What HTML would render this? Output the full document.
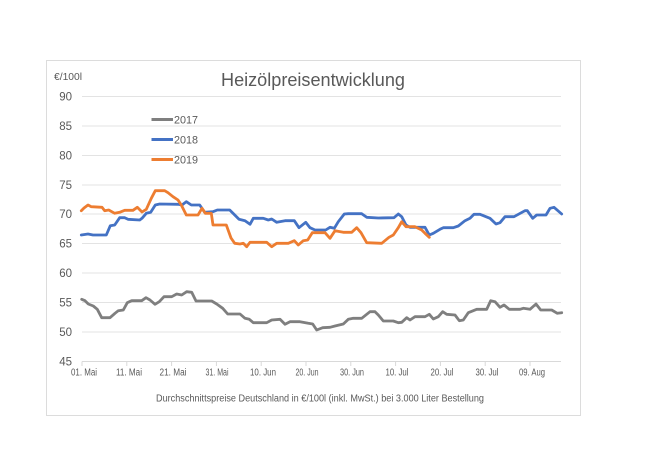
<!DOCTYPE html>
<html><head><meta charset="utf-8">
<style>
html,body{margin:0;padding:0;background:#fff;}
svg{display:block;}
text{font-family:"Liberation Sans",sans-serif;fill:#595959;}
</style></head>
<body>
<svg width="650" height="467" viewBox="0 0 650 467" xmlns="http://www.w3.org/2000/svg">
<rect x="0" y="0" width="650" height="467" fill="#fff"/>
<rect x="46.5" y="60.5" width="534" height="355" fill="#fff" stroke="#dcdcdc" stroke-width="1"/>
<g stroke="#e3e3e3" stroke-width="1">
<line x1="82" y1="96.5" x2="561" y2="96.5"/>
<line x1="82" y1="126" x2="561" y2="126"/>
<line x1="82" y1="155.5" x2="561" y2="155.5"/>
<line x1="82" y1="185" x2="561" y2="185"/>
<line x1="82" y1="214" x2="561" y2="214"/>
<line x1="82" y1="243.5" x2="561" y2="243.5"/>
<line x1="82" y1="273" x2="561" y2="273"/>
<line x1="82" y1="302.5" x2="561" y2="302.5"/>
<line x1="82" y1="332" x2="561" y2="332"/>
</g>
<g stroke="#d9d9d9" stroke-width="1">
<line x1="82" y1="361.5" x2="561" y2="361.5"/>
<line x1="82" y1="361.5" x2="82" y2="366"/>
<line x1="126.8" y1="361.5" x2="126.8" y2="366"/>
<line x1="171.6" y1="361.5" x2="171.6" y2="366"/>
<line x1="216.4" y1="361.5" x2="216.4" y2="366"/>
<line x1="261.2" y1="361.5" x2="261.2" y2="366"/>
<line x1="306" y1="361.5" x2="306" y2="366"/>
<line x1="350.8" y1="361.5" x2="350.8" y2="366"/>
<line x1="395.6" y1="361.5" x2="395.6" y2="366"/>
<line x1="440.4" y1="361.5" x2="440.4" y2="366"/>
<line x1="485.2" y1="361.5" x2="485.2" y2="366"/>
<line x1="530" y1="361.5" x2="530" y2="366"/>
</g>
<text x="313" y="86" font-size="18" text-anchor="middle" textLength="184" lengthAdjust="spacingAndGlyphs">Heizölpreisentwicklung</text>
<text x="54" y="80" font-size="10" textLength="28" lengthAdjust="spacingAndGlyphs">€/100l</text>
<g font-size="11.5" text-anchor="end">
<text x="72" y="100.5">90</text>
<text x="72" y="130">85</text>
<text x="72" y="159.5">80</text>
<text x="72" y="189">75</text>
<text x="72" y="218">70</text>
<text x="72" y="247.5">65</text>
<text x="72" y="277">60</text>
<text x="72" y="306.5">55</text>
<text x="72" y="336">50</text>
<text x="72" y="365.5">45</text>
</g>
<g font-size="10" text-anchor="middle">
<text x="84" y="375.5" textLength="26" lengthAdjust="spacingAndGlyphs">01. Mai</text>
<text x="129" y="375.5" textLength="26" lengthAdjust="spacingAndGlyphs">11. Mai</text>
<text x="173" y="375.5" textLength="27" lengthAdjust="spacingAndGlyphs">21. Mai</text>
<text x="217" y="375.5" textLength="23" lengthAdjust="spacingAndGlyphs">31. Mai</text>
<text x="263" y="375.5" textLength="26" lengthAdjust="spacingAndGlyphs">10. Jun</text>
<text x="307" y="375.5" textLength="23" lengthAdjust="spacingAndGlyphs">20. Jun</text>
<text x="352" y="375.5" textLength="24" lengthAdjust="spacingAndGlyphs">30. Jun</text>
<text x="397" y="375.5" textLength="23" lengthAdjust="spacingAndGlyphs">10. Jul</text>
<text x="442" y="375.5" textLength="23" lengthAdjust="spacingAndGlyphs">20. Jul</text>
<text x="487" y="375.5" textLength="23" lengthAdjust="spacingAndGlyphs">30. Jul</text>
<text x="532" y="375.5" textLength="26" lengthAdjust="spacingAndGlyphs">09. Aug</text>
</g>
<text x="320" y="401.5" font-size="10" text-anchor="middle" textLength="328" lengthAdjust="spacingAndGlyphs">Durchschnittspreise Deutschland in €/100l (inkl. MwSt.) bei 3.000 Liter Bestellung</text>
<g stroke-width="3" fill="none">
<line x1="151.5" y1="119.5" x2="173" y2="119.5" stroke="#7f7f7f"/>
<line x1="151.5" y1="139.5" x2="173" y2="139.5" stroke="#4472c4"/>
<line x1="151.5" y1="159.5" x2="173" y2="159.5" stroke="#ed7d31"/>
</g>
<g font-size="11">
<text x="174" y="123.5" textLength="24" lengthAdjust="spacingAndGlyphs">2017</text>
<text x="174" y="143.5" textLength="24" lengthAdjust="spacingAndGlyphs">2018</text>
<text x="174" y="163.5" textLength="24" lengthAdjust="spacingAndGlyphs">2019</text>
</g>
<g fill="none" stroke-width="2.8" stroke-linejoin="round" stroke-linecap="round">
<polyline stroke="#7f7f7f" points="81.7,299.3 85,300.7 88.3,304 93.3,306 97.3,309.3 101.7,317.7 110,317.7 115,313.3 118.3,310.7 123.3,310 127.3,302.7 131.7,300.7 141.7,300.7 146,297.7 150,300 155,304.3 159.3,301.7 164,296.7 171.7,296.7 176.7,294 181.7,295 186.7,291.7 191.7,292.3 196,301 211.7,301 216.7,304 222.7,308.3 227.7,314 240,314 245,318.3 249.3,319.3 253.3,322.7 266.7,322.7 271.7,320 280,319.3 285,324.3 290,321.7 300,321.7 308.3,323.3 312.7,324 316.7,330 322.7,327.7 330,327.3 335,326 343.3,324 348.3,319.3 353.3,318.3 361.7,318.3 370,311.7 375,311.7 378.3,315 383.3,321 393.3,321 398.3,322.7 401.7,322.3 406.7,317.7 410,320 415,316.7 425,316.7 429.3,314.3 433.3,319 438.3,316.7 442.7,311.7 446.7,314.3 455,315 459.3,320.7 463.3,320 468.3,312.7 476.7,309.3 486.7,309.3 490.7,300.7 495,301.7 500,307.3 504,305 509.3,309.3 520,309.3 523.3,308.3 530,309.3 536,304 540.7,310 551.7,310 557.3,313.3 561.7,312.7"/>
<polyline stroke="#4472c4" points="81.3,235 88,234 93,235 106.3,235 110.3,225.7 114.7,225 119.7,217.7 124.7,217.7 128,219.3 139.7,220 142,218.3 146.3,213.3 150.7,212.3 155.3,205 159.7,204 178,204.3 182,205 186.3,201.7 191.3,205 199.7,205 204.7,212.3 213,211.7 217.3,210 229.7,210 233,213.3 239,219.3 245,220.7 250,224.3 253.3,218.3 263.3,218.3 268.3,220 271.7,219 276.7,222.3 285,220.7 294.3,220.7 299,227.7 305.7,222.3 310,227.7 315,230 325.7,230 330,227.3 334.3,228.3 338.3,221.7 344.3,214 348.3,213.7 361.7,213.7 366.7,217.3 378.3,218 394,217.7 398.3,214 401.7,216.7 406,225 410,227.3 425,227.3 429.3,235 433.3,233.3 440,229.3 443.3,227.7 453.3,227.7 458.3,226 465,220.7 470,218.3 474,214.3 480,214.3 490,218.3 496,224 500,222.7 505,216.7 514,216.7 525,210.7 527.3,210.7 532.7,218.3 536.7,215 546,215 550,208.3 554,207.3 561.7,214"/>
<polyline stroke="#ed7d31" points="81.3,210.7 84,208 88,205 91.3,206.7 102,207.3 104.7,210.7 108.7,210 114.7,213.3 119.7,212.3 124.7,210.3 133,210.3 137.3,207.3 142,212 146.3,209.3 151.3,198.3 155.3,190.7 164.7,190.7 168,192.7 173,196.7 178,200 181.3,205 186.3,215 198,215 202,208.3 205.3,213.3 211.3,213.3 213,225 226.3,225 231,238 234.7,243.3 240,244 243.3,243.3 246.7,246.7 250,242.3 266.7,242.3 271.7,246.7 276.7,243.3 288.3,243.3 294.3,240.7 298.3,245 303.3,240.7 307.7,240 312.3,232.7 325,232.7 330,238.3 335,230.7 343.3,232.3 351.7,232.3 356.7,227.7 361,232.7 366.7,242.7 381.7,243.3 389,237.3 393.3,235 398.3,227.7 401.7,221.7 406,226.7 415,226.7 421.7,230 425,233.3 429.3,237.3"/>
</g>
</svg>
</body></html>
